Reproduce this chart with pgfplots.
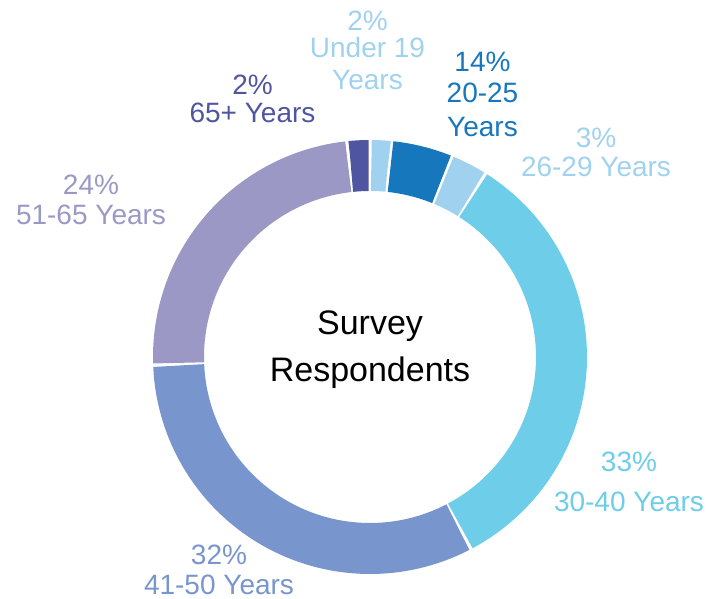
\documentclass[border=0pt]{standalone}
\usepackage{fontspec}
\setmainfont{Liberation Sans}
\usepackage{pgfplots}
\pgfplotsset{compat=1.18}
\definecolor{cU}{HTML}{A0D2F0}
\definecolor{cA}{HTML}{1777BC}
\definecolor{cB}{HTML}{A0D2F0}
\definecolor{cC}{HTML}{6ECDE8}
\definecolor{cD}{HTML}{7896CD}
\definecolor{cE}{HTML}{9B98C6}
\definecolor{cF}{HTML}{4F55A0}
% slice: #1 cumulative start (%), #2 cumulative end (%), #3 colour
\newcommand\slice[3]{%
  \addplot[color=#3, line width=38.25pt, line cap=butt, domain={#1*3.6+0.4}:{#2*3.6-0.4}, samples=90]
    ({370+191.5*sin(x)},{242+191.5*cos(x)});}
\newcommand\lbl[4]{\node[anchor=base, text=#4, inner sep=0pt, font=\fontsize{21}{25}\selectfont] at (axis cs:#1,{599-#2}) {#3};}
\begin{document}
\begin{tikzpicture}
\useasboundingbox (0,0) rectangle (543pt,449.25pt);
\clip (0,0) rectangle (543pt,449.25pt);
\begin{axis}[
  at={(0,0)}, anchor=south west,
  scale only axis, width=543pt, height=449.25pt,
  xmin=0, xmax=724, ymin=0, ymax=599,
  hide axis, clip=false]
% values (%): Under 19 1.6, 20-25 4.6, 26-29 2.75, 30-40 33.35, 41-50 32.1, 51-65 23.9, 65+ 1.7
\slice{0}{1.6}{cU}
\slice{1.6}{6.2}{cA}
\slice{6.2}{8.95}{cB}
\slice{8.95}{42.3}{cC}
\slice{42.3}{74.4}{cD}
\slice{74.4}{98.3}{cE}
\slice{98.3}{100}{cF}
% labels
\lbl{367.5}{30.5}{2\%}{cU}
\lbl{367.5}{57.5}{Under 19}{cU}
\lbl{367.5}{90}{Years}{cU}
\lbl{482.5}{72}{14\%}{cA}
\lbl{482.5}{103}{20-25}{cA}
\lbl{482.5}{137}{Years}{cA}
\lbl{596}{148}{3\%}{cB}
\lbl{596}{177}{26-29 Years}{cB}
\lbl{629}{472}{33\%}{cC}
\lbl{629}{512}{30-40 Years}{cC}
\lbl{219}{565}{32\%}{cD}
\lbl{219}{595}{41-50 Years}{cD}
\lbl{91}{195}{24\%}{cE}
\lbl{91}{225}{51-65 Years}{cE}
\lbl{252.5}{95}{2\%}{cF}
\lbl{252.5}{123}{65+ Years}{cF}
\node[anchor=base, inner sep=0pt, font=\fontsize{25.5}{30}\selectfont] at (axis cs:370,{599-335}) {Survey};
\node[anchor=base, inner sep=0pt, font=\fontsize{25.5}{30}\selectfont] at (axis cs:370,{599-382}) {Respondents};
\end{axis}
\end{tikzpicture}
\end{document}
